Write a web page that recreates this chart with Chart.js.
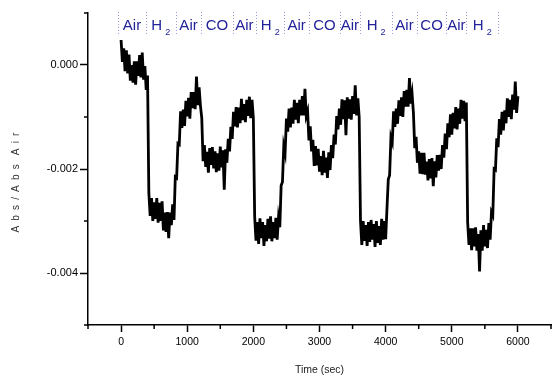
<!DOCTYPE html>
<html>
<head>
<meta charset="utf-8">
<script src="https://cdn.jsdelivr.net/npm/chart.js@4/dist/chart.umd.min.js"></script>
<style>
  html, body { margin: 0; padding: 0; background: #fff; }
  #wrap { width: 555px; height: 376px; }
</style>
</head>
<body>
<div id="wrap"><canvas id="c" width="555" height="376"></canvas></div>
<script>
// ---- data ----
const sampleInterval = 20; // seconds between samples
const absValues = [
  0.00048, 0.00006, 0.00032, -0.00012, 0.00028, -0.00016, 0.00020, -0.00030, 0.00000, -0.00034,
  0.00007, -0.00038, 0.00007, -0.00021, 0.00019, -0.00024, 0.00024, -0.00028, -0.00002, -0.00048,
  -0.00020, -0.00246, -0.00290, -0.00256, -0.00300, -0.00264, -0.00296, -0.00256, -0.00303, -0.00265,
  -0.00300, -0.00262, -0.00318, -0.00284, -0.00321, -0.00283, -0.00333, -0.00284, -0.00308, -0.00268,
  -0.00298, -0.00215, -0.00217, -0.00151, -0.00153, -0.00089, -0.00121, -0.00086, -0.00117, -0.00069,
  -0.00099, -0.00063, -0.00103, -0.00052, -0.00083, -0.00052, -0.00085, -0.00022, -0.00077, -0.00043,
  -0.00078, -0.00102, -0.00185, -0.00154, -0.00196, -0.00167, -0.00207, -0.00160, -0.00192, -0.00158,
  -0.00199, -0.00166, -0.00206, -0.00170, -0.00203, -0.00157, -0.00197, -0.00164, -0.00240, -0.00162,
  -0.00188, -0.00142, -0.00166, -0.00119, -0.00142, -0.00090, -0.00118, -0.00081, -0.00120, -0.00082,
  -0.00112, -0.00065, -0.00106, -0.00075, -0.00110, -0.00067, -0.00098, -0.00061, -0.00102, -0.00067,
  -0.00102, -0.00292, -0.00338, -0.00302, -0.00344, -0.00295, -0.00333, -0.00302, -0.00348, -0.00308,
  -0.00339, -0.00296, -0.00334, -0.00291, -0.00339, -0.00302, -0.00333, -0.00294, -0.00336, -0.00294,
  -0.00312, -0.00232, -0.00225, -0.00156, -0.00169, -0.00103, -0.00128, -0.00084, -0.00120, -0.00082,
  -0.00113, -0.00067, -0.00105, -0.00073, -0.00112, -0.00067, -0.00097, -0.00060, -0.00097, -0.00046,
  -0.00098, -0.00089, -0.00145, -0.00118, -0.00166, -0.00144, -0.00194, -0.00156, -0.00193, -0.00161,
  -0.00205, -0.00175, -0.00212, -0.00165, -0.00207, -0.00178, -0.00217, -0.00168, -0.00202, -0.00154,
  -0.00179, -0.00134, -0.00153, -0.00098, -0.00124, -0.00084, -0.00115, -0.00066, -0.00104, -0.00068,
  -0.00135, -0.00062, -0.00103, -0.00066, -0.00105, -0.00060, -0.00094, -0.00039, -0.00097, -0.00064,
  -0.00100, -0.00300, -0.00346, -0.00300, -0.00338, -0.00308, -0.00348, -0.00302, -0.00340, -0.00298,
  -0.00336, -0.00306, -0.00350, -0.00300, -0.00342, -0.00310, -0.00346, -0.00296, -0.00336, -0.00300,
  -0.00335, -0.00276, -0.00220, -0.00212, -0.00139, -0.00148, -0.00089, -0.00119, -0.00084, -0.00113,
  -0.00068, -0.00098, -0.00062, -0.00100, -0.00050, -0.00080, -0.00048, -0.00080, -0.00025, -0.00074,
  -0.00056, -0.00092, -0.00160, -0.00138, -0.00188, -0.00166, -0.00209, -0.00169, -0.00210, -0.00169,
  -0.00211, -0.00186, -0.00222, -0.00181, -0.00218, -0.00179, -0.00233, -0.00185, -0.00216, -0.00173,
  -0.00203, -0.00173, -0.00200, -0.00154, -0.00178, -0.00132, -0.00162, -0.00112, -0.00139, -0.00095,
  -0.00134, -0.00092, -0.00122, -0.00081, -0.00124, -0.00084, -0.00113, -0.00067, -0.00103, -0.00069,
  -0.00108, -0.00072, -0.00303, -0.00346, -0.00314, -0.00356, -0.00314, -0.00349, -0.00312, -0.00357,
  -0.00325, -0.00397, -0.00318, -0.00357, -0.00308, -0.00349, -0.00317, -0.00352, -0.00304, -0.00336,
  -0.00283, -0.00289, -0.00200, -0.00202, -0.00141, -0.00158, -0.00104, -0.00134, -0.00090, -0.00126,
  -0.00087, -0.00112, -0.00064, -0.00100, -0.00067, -0.00104, -0.00057, -0.00086, -0.00032, -0.00092,
  -0.00060
];
const times = absValues.map((_, i) => i * sampleInterval);

const gasLabels = ['Air','H2','Air','CO','Air','H2','Air','CO','Air','H2','Air','CO','Air','H2'];
const gasSwitchTimes = [-40, 370, 830, 1210, 1690, 2040, 2470, 2840, 3310, 3610, 4100, 4470, 4920, 5220, 5700];

const xTickValues = [0, 1000, 2000, 3000, 4000, 5000, 6000];
const xTickLabels = ['0', '1000', '2000', '3000', '4000', '5000', '6000'];
const xMinorTicks = [-500, 500, 1500, 2500, 3500, 4500, 5500, 6500];
const yTickValues = [0, -0.002, -0.004];
const yTickLabels = ['0.000', '-0.002', '-0.004'];
const yMinorTicks = [0.001, -0.001, -0.003, -0.005];
const xTitle = 'Time (sec)';
const yTitle = 'A b s / A b s  A i r';

// ---- chart ----
const near = (a, b, tol) => Math.abs(a - b) < tol;
const majorIndex = (list, v, tol) => list.findIndex(m => near(m, v, tol));
const FONT = '"Liberation Sans", Arial, sans-serif';

const overlay = {
  id: 'overlay',
  afterDraw(chart) {
    const { ctx, chartArea } = chart;
    const x = chart.scales.x, y = chart.scales.y;
    ctx.save();
    // minor ticks
    ctx.strokeStyle = '#000';
    ctx.lineWidth = 1.5;
    xMinorTicks.forEach(v => {
      const px = x.getPixelForValue(v);
      ctx.beginPath(); ctx.moveTo(px, chartArea.bottom); ctx.lineTo(px, chartArea.bottom + 4); ctx.stroke();
    });
    yMinorTicks.forEach(v => {
      const py = y.getPixelForValue(v);
      ctx.beginPath(); ctx.moveTo(chartArea.left, py); ctx.lineTo(chartArea.left - 4, py); ctx.stroke();
    });
    // dotted gas-switch separators
    ctx.strokeStyle = '#9a9ad4';
    ctx.lineWidth = 1;
    ctx.setLineDash([1, 2]);
    gasSwitchTimes.forEach(t => {
      const px = Math.round(x.getPixelForValue(t)) + 0.5;
      ctx.beginPath(); ctx.moveTo(px, 12); ctx.lineTo(px, 35); ctx.stroke();
    });
    ctx.setLineDash([]);
    // gas labels
    ctx.fillStyle = '#22229a';
    ctx.textBaseline = 'alphabetic';
    ctx.textAlign = 'left';
    const bigFont = '15px ' + FONT;
    const subFont = '9px ' + FONT;
    gasLabels.forEach((lab, i) => {
      const cx = (x.getPixelForValue(gasSwitchTimes[i]) + x.getPixelForValue(gasSwitchTimes[i + 1])) / 2;
      const m = lab.match(/^([A-Za-z]+)(\d*)$/);
      const main = m ? m[1] : lab;
      const sub = m ? m[2] : '';
      ctx.font = bigFont;
      const wMain = ctx.measureText(main).width;
      ctx.font = subFont;
      const wSub = sub ? ctx.measureText(sub).width + 3 : 0;
      const start = cx - (wMain + wSub) / 2;
      ctx.font = bigFont;
      ctx.fillText(main, start, 29.5);
      if (sub) {
        ctx.font = subFont;
        ctx.fillText(sub, start + wMain + 3, 35);
      }
    });
    // y axis title
    ctx.fillStyle = '#333';
    ctx.font = '10px ' + FONT;
    if ('letterSpacing' in ctx) ctx.letterSpacing = '1.2px';
    ctx.translate(16, 182);
    ctx.rotate(-Math.PI / 2);
    ctx.textAlign = 'center';
    ctx.textBaseline = 'middle';
    ctx.fillText(yTitle, 0, 0);
    ctx.restore();
  }
};

new Chart(document.getElementById('c'), {
  type: 'line',
  data: {
    datasets: [{
      data: absValues.map((v, i) => ({ x: times[i], y: v })),
      borderColor: '#000',
      borderWidth: 2.8,
      borderJoinStyle: 'miter',
      pointRadius: 0,
      tension: 0,
      fill: false
    }]
  },
  options: {
    responsive: false,
    animation: false,
    devicePixelRatio: 1,
    layout: { padding: { top: 13, right: 0, bottom: 0, left: 0 } },
    plugins: { legend: { display: false }, tooltip: { enabled: false } },
    scales: {
      x: {
        type: 'linear',
        min: -500, max: 6500,
        afterFit: s => { s.height = 51; },
        afterBuildTicks: s => {
          s.ticks = [...xTickValues, ...xMinorTicks].sort((a, b) => a - b).map(v => ({ value: v }));
        },
        ticks: {
          autoSkip: false, maxRotation: 0, padding: 4,
          color: '#000',
          font: { family: FONT, size: 10.5 },
          callback: v => { const k = majorIndex(xTickValues, v, 1); return k >= 0 ? xTickLabels[k] : ''; }
        },
        grid: {
          display: true, drawOnChartArea: false, drawTicks: true, tickLength: 7, tickWidth: 1.5,
          tickColor: c => majorIndex(xTickValues, c.tick.value, 1) >= 0 ? '#000' : 'rgba(0,0,0,0)'
        },
        border: { display: true, color: '#000', width: 1.5 },
        title: {
          display: true, text: xTitle, color: '#222',
          font: { family: FONT, size: 10.5 },
          padding: { top: 0, bottom: 0 }
        }
      },
      y: {
        type: 'linear',
        min: -0.005, max: 0.001,
        afterFit: s => { s.width = 88; },
        afterBuildTicks: s => {
          s.ticks = [...yTickValues, ...yMinorTicks].sort((a, b) => a - b).map(v => ({ value: v }));
        },
        ticks: {
          autoSkip: false, padding: 2,
          color: '#000',
          font: { family: FONT, size: 11 },
          callback: v => { const k = majorIndex(yTickValues, v, 1e-6); return k >= 0 ? yTickLabels[k] : ''; }
        },
        grid: {
          display: true, drawOnChartArea: false, drawTicks: true, tickLength: 8, tickWidth: 1.5,
          tickColor: c => majorIndex(yTickValues, c.tick.value, 1e-6) >= 0 ? '#000' : 'rgba(0,0,0,0)'
        },
        border: { display: true, color: '#000', width: 1.5 },
        title: { display: false }
      }
    }
  },
  plugins: [overlay]
});
</script>
</body>
</html>
